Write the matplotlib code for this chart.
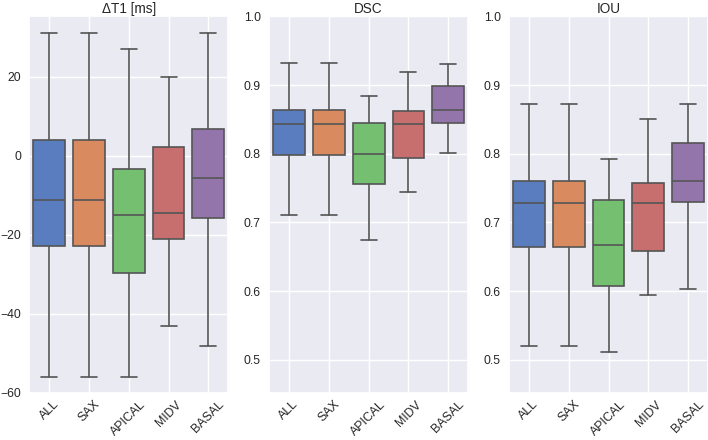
import matplotlib
matplotlib.use("Agg")
import matplotlib.pyplot as plt
import seaborn as sns

# Region labels (x axis of every panel)
regions = ["ALL", "SAX", "APICAL", "MIDV", "BASAL"]

# Box statistics: whisker low, Q1, median, Q3, whisker high
dt1_low = [-56.0, -56.0, -56.0, -43.0, -48.1]
dt1_q1 = [-22.9, -22.9, -29.6, -21.1, -15.8]
dt1_med = [-11.1, -11.1, -15.0, -14.4, -5.5]
dt1_q3 = [4.0, 4.0, -3.4, 2.3, 6.7]
dt1_high = [31.0, 31.0, 26.9, 20.0, 31.0]

dsc_low = [0.711, 0.711, 0.675, 0.745, 0.801]
dsc_q1 = [0.798, 0.798, 0.756, 0.794, 0.844]
dsc_med = [0.843, 0.843, 0.800, 0.843, 0.864]
dsc_q3 = [0.864, 0.864, 0.845, 0.862, 0.898]
dsc_high = [0.932, 0.932, 0.884, 0.919, 0.931]

iou_low = [0.520, 0.520, 0.511, 0.594, 0.603]
iou_q1 = [0.664, 0.664, 0.608, 0.659, 0.730]
iou_med = [0.729, 0.729, 0.667, 0.729, 0.761]
iou_q3 = [0.761, 0.761, 0.732, 0.758, 0.815]
iou_high = [0.872, 0.872, 0.792, 0.850, 0.872]

sns.set_theme(style="darkgrid")
plt.rcParams['font.family'] = ['Liberation Sans', 'DejaVu Sans']

LINE_COLOR = "#555555"
palette = [sns.desaturate(c, 0.75) for c in sns.color_palette("muted", 5)]


def makeStats(low, q1, med, q3, high):
    """ Build the list of dicts that ax.bxp wants. """
    stats = []
    for i in range(len(regions)):
        stats.append(dict(whislo=low[i], q1=q1[i], med=med[i], q3=q3[i],
                          whishi=high[i], fliers=[], label=regions[i]))
    return stats


def drawBoxes(ax, stats, title):
    props = dict(color=LINE_COLOR, linewidth=1.2)
    bp = ax.bxp(stats, positions=range(len(stats)), widths=0.8, capwidths=0.4,
                patch_artist=True, showfliers=False,
                boxprops=dict(edgecolor=LINE_COLOR, linewidth=1.2),
                whiskerprops=props, capprops=props, medianprops=props)
    for patch, col in zip(bp["boxes"], palette):
        patch.set_facecolor(col)
    ax.set_xlim(-0.5, len(stats) - 0.5)
    ax.set_title(title, fontsize=9.8, pad=2.5)
    ax.tick_params(axis="y", labelsize=8.8, length=0, pad=6)
    ax.tick_params(axis="x", labelsize=8.9, length=0, pad=4)
    plt.setp(ax.get_xticklabels(), rotation=45)


fig, axes = plt.subplots(1, 3, figsize=(7.08, 4.4), dpi=100)
fig.subplots_adjust(left=0.0414, right=1.0, top=0.963, bottom=0.107, wspace=0.206)

drawBoxes(axes[0], makeStats(dt1_low, dt1_q1, dt1_med, dt1_q3, dt1_high), "ΔT1 [ms]")
axes[0].set_ylim(-60, 35.3)
axes[0].set_yticks([-60, -40, -20, 0, 20])

drawBoxes(axes[1], makeStats(dsc_low, dsc_q1, dsc_med, dsc_q3, dsc_high), "DSC")
drawBoxes(axes[2], makeStats(iou_low, iou_q1, iou_med, iou_q3, iou_high), "IOU")
for ax in axes[1:]:
    ax.set_ylim(0.452, 1.0)
    ax.set_yticks([0.5, 0.6, 0.7, 0.8, 0.9, 1.0])

fig.savefig("out.png", dpi=100)
